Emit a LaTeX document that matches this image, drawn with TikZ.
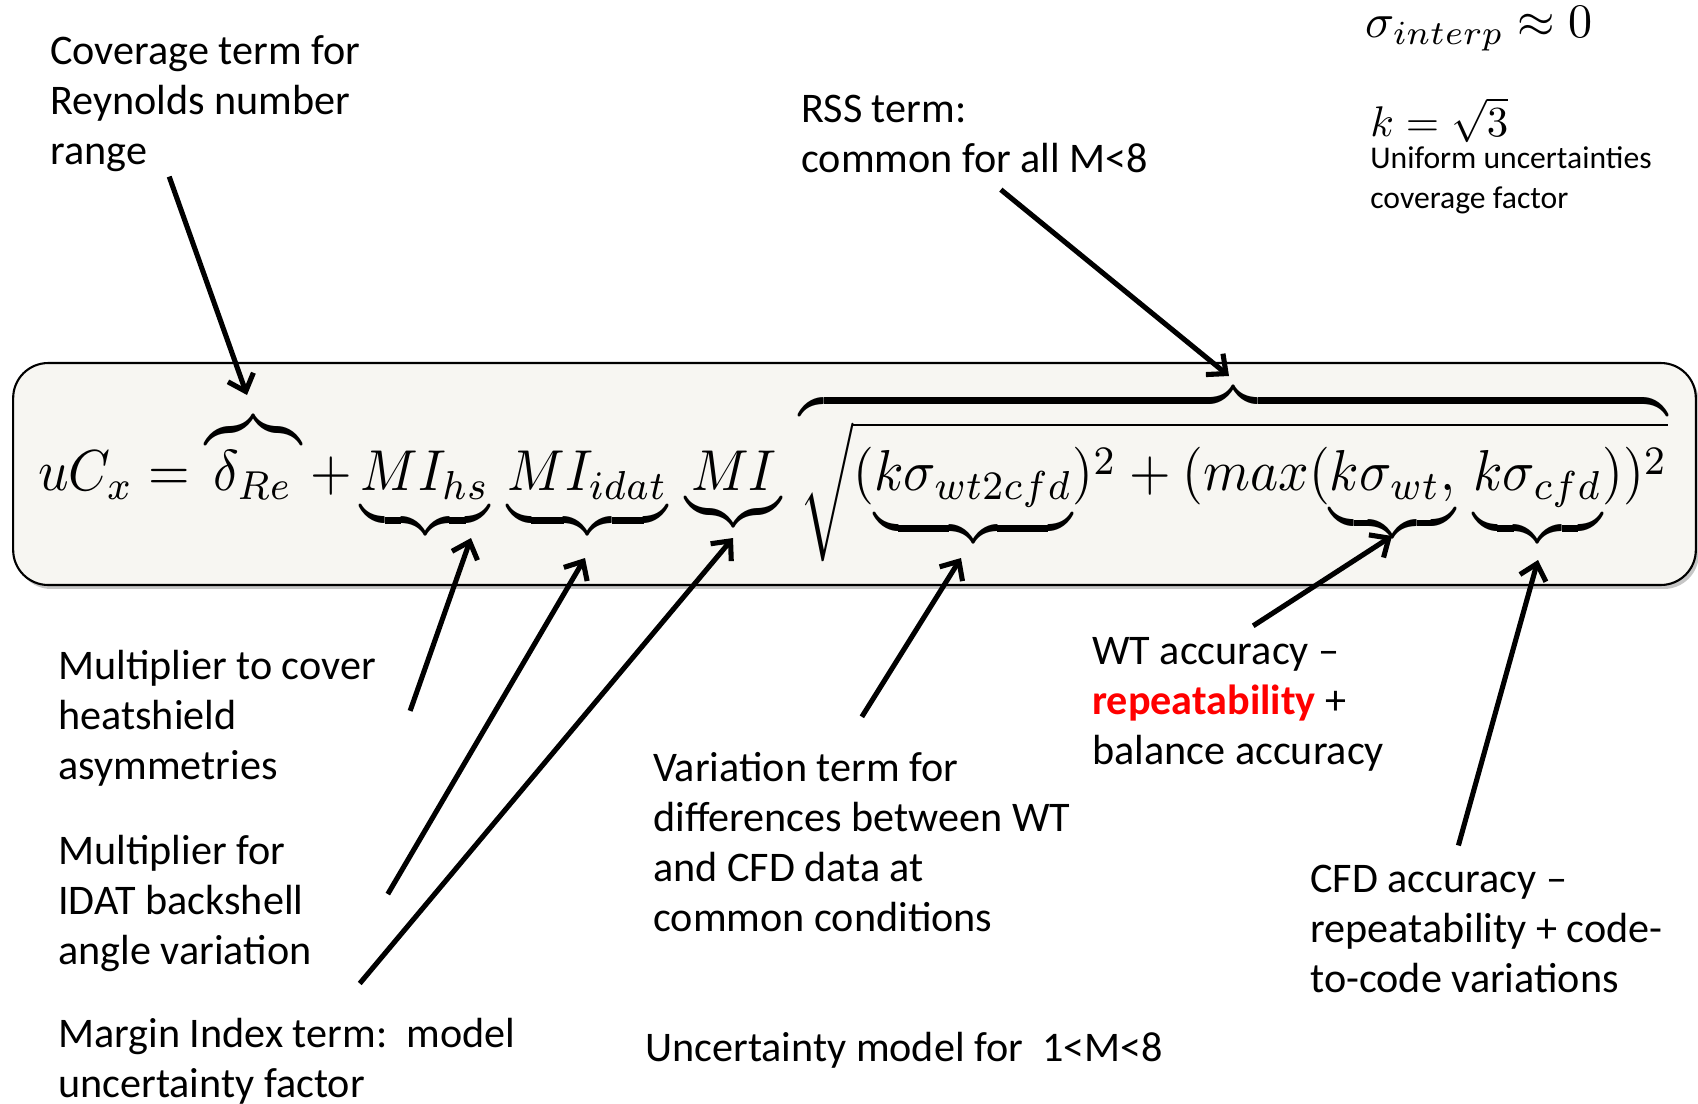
\documentclass[tikz,border=0pt]{standalone}
\usepackage{fontspec}
\setmainfont{Carlito}
\usepackage{amsmath}
\usetikzlibrary{arrows.meta,positioning,calc,shadows}
\definecolor{eqfill}{HTML}{F7F6F2}
\definecolor{hilite}{HTML}{FF0000}

\begin{document}
\begin{tikzpicture}[x=0.02cm,y=-0.02cm,
	lbl/.style={anchor=base west, align=left, inner sep=0pt, font=\fontsize{24}{28.4}\selectfont},
	small/.style={anchor=base west, align=left, inner sep=0pt, font=\fontsize{18}{22.7}\selectfont},
	arr/.style={-{Straight Barb[length=3mm,width=5.4mm]}, line width=2.9pt}
	]
	\useasboundingbox (0,0) rectangle (1698,1103);
	% equation box
	\node[draw, line width=1.2pt, rounded corners=0.7cm, fill=eqfill, minimum width=33.66cm, minimum height=4.44cm,
		drop shadow={shadow xshift=0.06cm, shadow yshift=-0.08cm, opacity=0.45}] (eqbox) at (854.5,474) {};
	\node[inner sep=0pt] (eq) at (853,471) {\scalebox{1}[1.08]{\resizebox{32.6cm}{!}{$uC_x = \overbrace{\delta_{Re}} + \underbrace{MI_{hs}}\,\underbrace{MI_{idat}}\,\underbrace{MI}\,\overbrace{\sqrt{(\underbrace{k\sigma_{wt2cfd}})^2 + (max(\underbrace{k\sigma_{wt},}\,\underbrace{k\sigma_{cfd}}))^2}}$}}};
	% side formulas
	\node[inner sep=0pt, anchor=west] (sig) at (1365,29) {\resizebox{4.54cm}{!}{$\sigma_{interp}\approx 0$}};
	\node[inner sep=0pt, anchor=west] (kfac) at (1370,120) {\resizebox{2.76cm}{!}{$k=\sqrt{3}$}};
	\node[small] (unif) at (1370,208) {Uniform uncertainties\\coverage factor};
	% labels
	\node[lbl] (cov) at (50,164) {Coverage term for\\Reynolds number\\range};
	\node[lbl] (rss) at (801,172) {RSS term:\\common for all M<8};
	\node[lbl] (hs) at (58,779) {Multiplier to cover\\heatshield\\asymmetries};
	\node[lbl] (idat) at (58,964) {Multiplier for\\IDAT backshell\\angle variation};
	\node[lbl] (mi) at (58,1097) {Margin Index term:\ \ model\\uncertainty factor};
	\node[lbl] (var) at (653,931) {Variation term for\\differences between WT\\and CFD data at\\common conditions};
	\node[lbl] (wt) at (1092,764) {WT accuracy --\\{\bfseries\color{hilite}repeatability} +\\balance accuracy};
	\node[lbl] (cfd) at (1310,992) {CFD accuracy --\\repeatability + code-\\to-code variations};
	\node[lbl] (model) at (645,1061) {Uncertainty model for\ \ 1<M<8};
	% brace tips
	\coordinate (tRe) at (247,395);
	\coordinate (tRss) at (1229,376);
	\coordinate (tHs) at (471,538);
	\coordinate (tIdat) at (585,558);
	\coordinate (tMi) at (733,538);
	\coordinate (tVar) at (961,558);
	\coordinate (tWt) at (1392,536);
	\coordinate (tCfd) at (1538,560);
	% arrows
	\draw[arr] ($(cov.south)+(-36,5)$) -- (tRe);
	\draw[arr] ($(rss.south)+(26,17)$) -- (tRss);
	\draw[arr] ($(hs.east)+(34,-7)$) -- (tHs);
	\draw[arr] ($(idat.east)+(76,-9)$) -- (tIdat);
	\draw[arr] ($(mi.north)+(73,-34)$) -- (tMi);
	\draw[arr] ($(var.north)+(0,-35)$) -- (tVar);
	\draw[arr] ($(wt.north)+(15,-11)$) -- (tWt);
	\draw[arr] ($(cfd.north)+(-28,-19)$) -- (tCfd);
\end{tikzpicture}
\end{document}
